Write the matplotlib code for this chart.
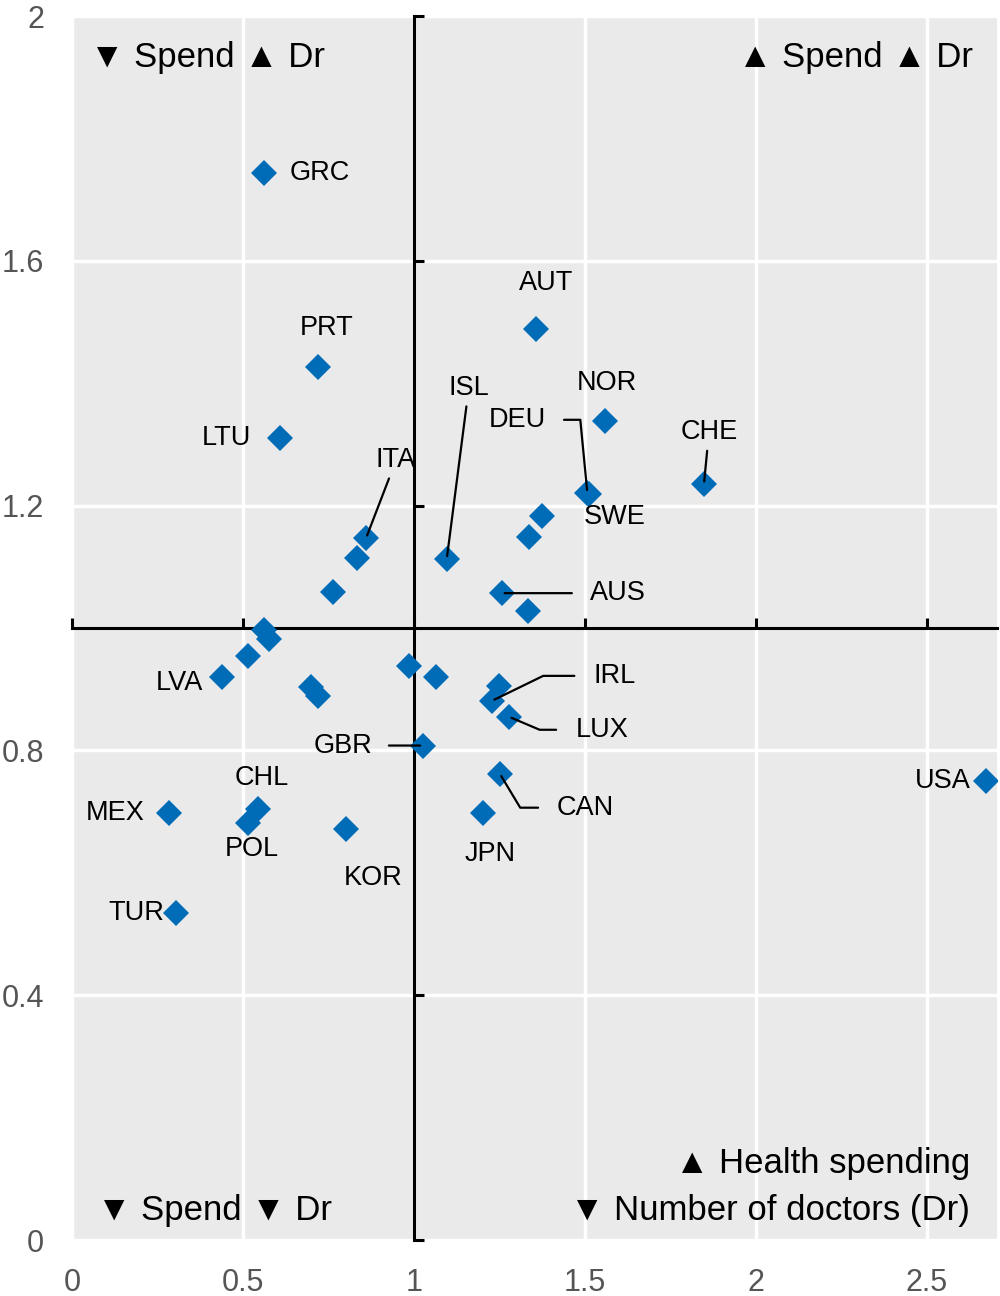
import matplotlib
matplotlib.use('Agg')
import matplotlib.pyplot as plt

plt.rcParams['font.family'] = ['Liberation Sans', 'DejaVu Sans']

# ratio to OECD average: health spending (x) and number of doctors (y)
codes = ['GRC', 'PRT', 'LTU', 'ITA', 'p1', 'p2', 'ISL', 'AUT', 'NOR', 'DEU', 'SWE', 'CHE',
         'p3', 'p4', 'AUS', 'p5', 'p6', 'p7', 'p8', 'LVA', 'p9', 'p10', 'p11', 'p12',
         'p13', 'IRL', 'LUX', 'GBR', 'CAN', 'JPN', 'USA', 'MEX', 'CHL', 'POL', 'KOR', 'TUR']
spend = [0.561, 0.719, 0.608, 0.860, 0.833, 0.763, 1.096, 1.357, 1.558, 1.507, 1.511, 1.848,
         1.374, 1.336, 1.257, 1.333, 0.561, 0.576, 0.515, 0.439, 0.699, 0.719, 0.985, 1.064,
         1.249, 1.228, 1.278, 1.026, 1.251, 1.202, 2.673, 0.284, 0.544, 0.515, 0.801, 0.304]
doctors = [1.744, 1.427, 1.310, 1.147, 1.114, 1.059, 1.113, 1.488, 1.339, 1.221, 1.219, 1.235,
           1.183, 1.148, 1.057, 1.028, 0.997, 0.982, 0.954, 0.920, 0.904, 0.889, 0.938, 0.920,
           0.905, 0.881, 0.855, 0.808, 0.762, 0.698, 0.750, 0.698, 0.705, 0.682, 0.672, 0.535]

xticks = [0, 0.5, 1, 1.5, 2, 2.5]
xlabels = ['0', '0.5', '1', '1.5', '2', '2.5']
yticks = [0, 0.4, 0.8, 1.2, 1.6, 2]
ylabels = ['0', '0.4', '0.8', '1.2', '1.6', '2']

# label offsets in pixels (dx, dy) and optional leader line style
labels = {
    'GRC': (56, 0, None), 'PRT': (9, 39, None), 'LTU': (-53, 0, None),
    'ITA': (30, 78, 'arc3'), 'ISL': (22, 171, 'arc3'), 'AUT': (10, 46, None),
    'NOR': (2, 38, None), 'DEU': (-70, 73, 'angle,angleA=0,angleB=95.5,rad=0'),
    'SWE': (26, -23, None), 'CHE': (5, 52, 'arc3'), 'AUS': (116, 0, 'arc3'),
    'LVA': (-43, -6, None), 'IRL': (123, 25, 'angle,angleA=0,angleB=26,rad=0'),
    'LUX': (93, -13, 'angle,angleA=0,angleB=-23,rad=0'), 'GBR': (-80, 0, 'arc3'),
    'CAN': (85, -34, 'angle,angleA=0,angleB=-59,rad=0'), 'JPN': (7, -41, None),
    'USA': (-43, 0, None), 'MEX': (-54, 0, None), 'CHL': (4, 31, None),
    'POL': (4, -26, None), 'KOR': (27, -49, None), 'TUR': (-40, 0, None),
}
shrink = {'DEU': 11, 'IRL': 12, 'LUX': 12, 'CAN': 11, 'AUS': 11, 'GBR': 10,
          'ITA': 2, 'ISL': 2, 'CHE': 2}

fig = plt.figure(figsize=(10, 12.96), dpi=100)
ax = fig.add_axes([0.072, 0.0432, 0.925, 0.9444])
ax.set_facecolor('#EAEAEA')
ax.set_xlim(0, 2.705)
ax.set_ylim(0, 2)
ax.set_xticks(xticks)
ax.set_yticks(yticks)
ax.grid(True, color='white', linewidth=2.5)
ax.set_axisbelow(True)

for s in ['top', 'right']:
    ax.spines[s].set_visible(False)
ax.spines['left'].set_position(('data', 1))
ax.spines['bottom'].set_position(('data', 1))
for s in ['left', 'bottom']:
    ax.spines[s].set_linewidth(2.2)
    ax.spines[s].set_zorder(2.5)
ax.tick_params(direction='in', length=7, width=2.2, labelleft=False, labelbottom=False)

secy = ax.secondary_yaxis('left')
secy.set_yticks(yticks, labels=ylabels)
secx = ax.secondary_xaxis('bottom')
secx.set_xticks(xticks, labels=xlabels)
for sec in [secx, secy]:
    for s in sec.spines.values():
        s.set_visible(False)
    sec.tick_params(length=0, pad=20, labelsize=22, labelcolor='#555555')

ax.plot(spend, doctors, ls='none', marker='D', markersize=13.5,
        color='#006BB6', markeredgewidth=0, zorder=2.7)

for code, x, y in zip(codes, spend, doctors):
    if code not in labels:
        continue
    dx, dy, conn = labels[code]
    props = None
    if conn:
        props = dict(arrowstyle='-', color='black', lw=1.6, connectionstyle=conn,
                     shrinkA=shrink[code], shrinkB=2)
    ax.annotate(code, (x, y), xytext=(dx, dy), textcoords='offset pixels',
                ha='center', va='center', fontsize=19.5, arrowprops=props, zorder=4)

corner = dict(transform=ax.transAxes, fontsize=25, va='center')
ax.text(0.0195, 0.9665, '\u25bc Spend \u25b2 Dr', ha='left', **corner)
ax.text(0.974, 0.9665, '\u25b2 Spend \u25b2 Dr', ha='right', **corner)
ax.text(0.027, 0.0245, '\u25bc Spend \u25bc Dr', ha='left', **corner)
ax.text(0.971, 0.0629, '\u25b2 Health spending', ha='right', **corner)
ax.text(0.971, 0.0245, '\u25bc Number of doctors (Dr)', ha='right', **corner)

fig.savefig('out.png', dpi=100)
